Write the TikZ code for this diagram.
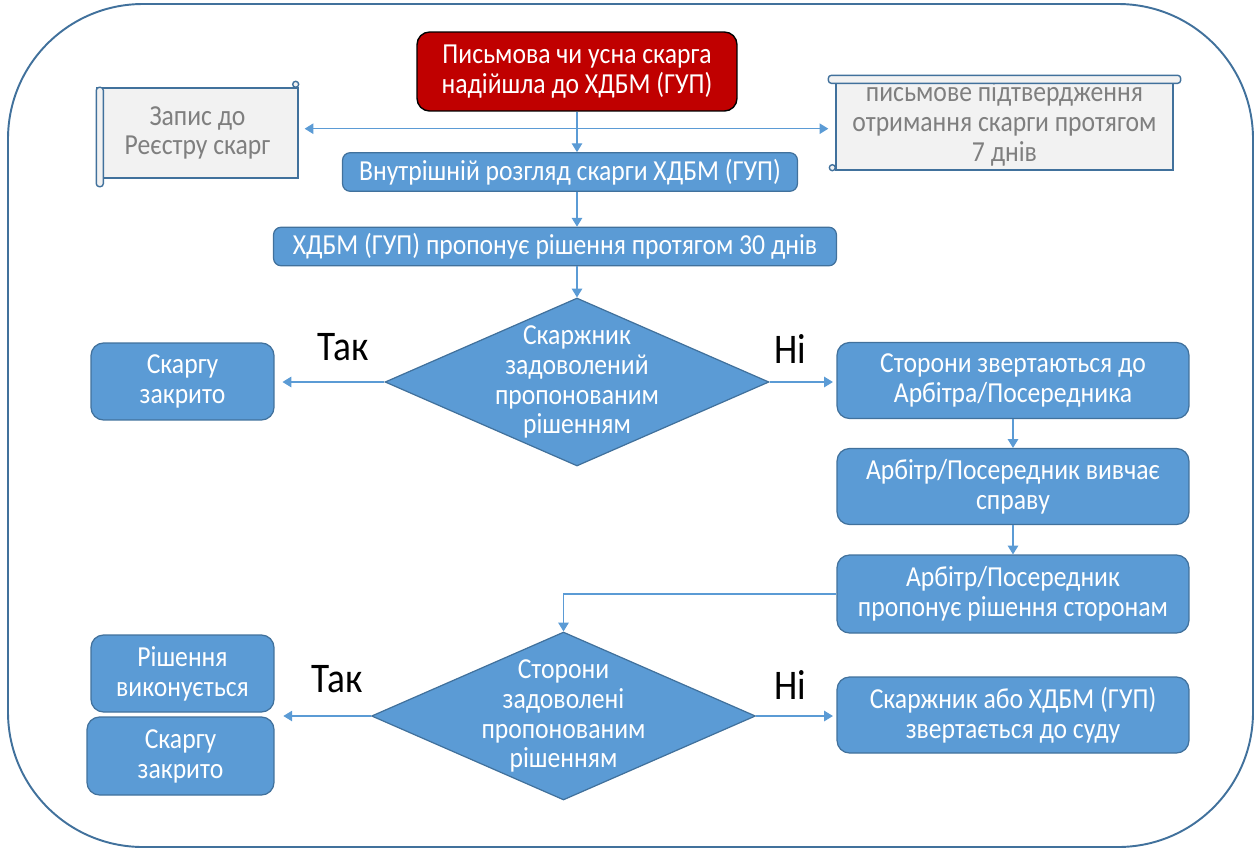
\documentclass[tikz,border=0pt]{standalone}
\usepackage{fontspec}
\setmainfont[FakeStretch=0.885]{Carlito}
\usetikzlibrary{shapes.geometric, arrows.meta, positioning, calc}

\definecolor{boxblue}{HTML}{5B9BD5}
\definecolor{edgeblue}{HTML}{41719C}
\definecolor{alertred}{HTML}{C00000}
\definecolor{scrollgray}{HTML}{F2F2F2}
\definecolor{textgray}{HTML}{7F7F7F}

\begin{document}
\begin{tikzpicture}[
    x=0.02cm, y=-0.02cm, % one unit = one pixel of the sketch, y going down
    every node/.style={font=\fontsize{16.5}{17}\selectfont},
    start/.style={rectangle, draw=black, fill=alertred, text=white, align=center, rounded corners=0.25cm, minimum width=6.4cm, minimum height=1.58cm, line width=0.8pt},
    block/.style={rectangle, draw=edgeblue, fill=boxblue, text=white, align=center, rounded corners=0.25cm, minimum width=7.04cm, minimum height=1.52cm, line width=0.7pt},
    thinblock/.style={block, rounded corners=0.15cm, minimum height=0.77cm},
    sideblock/.style={block, minimum width=3.66cm, minimum height=1.54cm},
    scroll/.style={rectangle, draw=edgeblue, fill=scrollgray, text=textgray, align=center, line width=0.8pt, inner sep=1pt},
    scrollpart/.style={draw=edgeblue, fill=scrollgray, line width=0.8pt, rounded corners=0.06cm},
    decision/.style={diamond, draw=edgeblue, fill=boxblue, minimum width=7.68cm, minimum height=3.36cm, inner sep=0pt, line width=0.7pt},
    dtext/.style={text=white, align=center, inner sep=0pt},
    answer/.style={font=\fontsize{24}{28}\selectfont, text=black},
    frame/.style={draw=edgeblue, line width=1.1pt, rounded corners=2.7cm},
    line/.style={draw=boxblue, line width=0.6pt, -{Triangle[length=5pt,width=6pt]}}
]
    \useasboundingbox (0,0) rectangle (1255,849);
    \draw[frame] (8,4) rectangle (1253,847);

    % top of the chart
    \node[start] (red) at (577,71.5) {Письмова чи усна скарга\\надійшла до ХДБМ (ГУП)};
    \node[scroll, minimum width=4.02cm, minimum height=1.8cm] (reg) at (197.5,133) {Запис до\\Реєстру скарг};
    \draw[scrollpart] (reg.north west) rectangle ($(reg.south west)+(7,8)$);
    \draw[scrollpart] ($(reg.north east)+(-6,0)$) rectangle ($(reg.north east)+(0,-6)$);
    \node[scroll, minimum width=6.74cm, minimum height=1.84cm] (conf) at (1004.5,124) {письмове підтвердження\\отримання скарги протягом\\7 днів};
    \draw[scrollpart] ($(conf.north west)+(-7,-2)$) rectangle ($(conf.north east)+(7,6)$);
    \draw[scrollpart] ($(conf.south west)+(-6,-6)$) rectangle (conf.south west);

    \node[thinblock, minimum width=9.1cm] (inner) at (570,172) {Внутрішній розгляд скарги ХДБМ (ГУП)};
    \node[thinblock, minimum width=11.26cm] (offer) at (555,246.5) {ХДБМ (ГУП) пропонує рішення протягом 30 днів};

    % first decision
    \node[decision] (q1) at (577,382) {};
    \node[dtext] (q1txt) at (q1) {Скаржник\\задоволений\\пропонованим\\рішенням};
    \node[sideblock] (closed1) at (182.5,381.5) {Скаргу\\закрито};
    \node[block] (appeal) at (1013,380.5) {Сторони звертаються до\\Арбітра/Посередника};
    \node[block] (study) at (1013,486.5) {Арбітр/Посередник вивчає\\справу};
    \node[block, minimum height=1.56cm] (propose) at (1013,594) {Арбітр/Посередник\\пропонує рішення сторонам};
    \node[answer] (yes1) at (343,347) {Так};
    \node[answer] (no1) at (790,349) {Ні};

    % second decision
    \node[decision] (q2) at (563.5,716) {};
    \node[dtext] (q2txt) at (q2) {Сторони\\задоволені\\пропонованим\\рішенням};
    \node[sideblock] (done) at (182.5,673.5) {Рішення\\виконується};
    \node[sideblock, minimum width=3.74cm, minimum height=1.56cm] (closed2) at (180.5,756) {Скаргу\\закрито};
    \node[block] (court) at (1013,715) {Скаржник або ХДБМ (ГУП)\\звертається до суду};
    \node[answer] (yes2) at (337,679) {Так};
    \node[answer] (no2) at (790,685) {Ні};

    % connectors
    \path (red.south) ++(0,17) coordinate (split);
    \draw[line] (red.south) -- (red.south |- inner.north);
    \draw[line, shorten >=3.4pt] (split) -- (split -| reg.east);
    \draw[line, shorten >=4pt] (split) -- (split -| conf.west);
    \draw[line] (red.south |- inner.south) -- (red.south |- offer.north);
    \draw[line] (red.south |- offer.south) -- (q1.north);
    \draw[line, shorten >=4.5pt] (q1.west) -- (q1.west -| closed1.east);
    \draw[line, shorten >=2pt] (q1.east) -- (q1.east -| appeal.west);
    \draw[line] (appeal.south) -- (study.north);
    \draw[line] (study.south) -- (propose.north);
    \draw[line] (propose.west) -| (q2.north);
    \draw[line, shorten >=5pt] (q2.west) -- (q2.west -| done.east);
    \draw[line, shorten >=2pt] (q2.east) -- (q2.east -| court.west);
\end{tikzpicture}
\end{document}
